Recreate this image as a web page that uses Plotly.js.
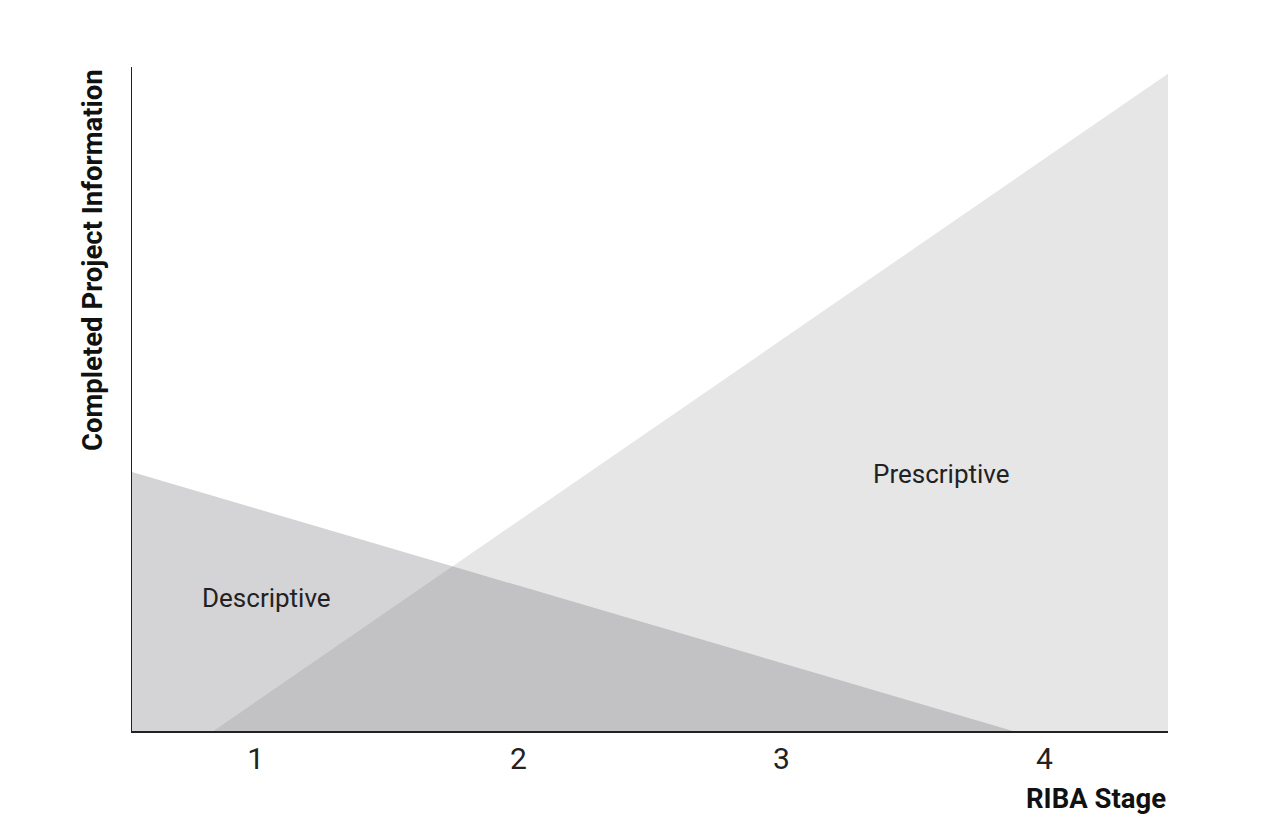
<!DOCTYPE html>
<html>
<head>
<meta charset="utf-8">
<script src="https://cdn.plot.ly/plotly-3.0.1.min.js"></script>
<style>
  html, body { margin: 0; padding: 0; background: #fff; }
  #chart { width: 1261px; height: 820px; }
</style>
</head>
<body>
<div id="chart"></div>
<script>
// RIBA stage on x, share of completed project information on y (0-100)
var stageTicks = [1, 2, 3, 4];
var stageLabels = ["1", "2", "3", "4"];

var descriptiveX = [0.53, 0.53, 3.88];
var descriptiveY = [0, 39, 0];

var prescriptiveX = [0.84, 4.47, 4.47];
var prescriptiveY = [0, 99, 0];

var regionNames = ["Descriptive", "Prescriptive"];
var regionLabelX = [1.04, 3.61];
var regionLabelY = [20, 38.7];

var font = "Roboto, 'Open Sans', sans-serif";

var trace1 = {
  x: prescriptiveX,
  y: prescriptiveY,
  mode: "lines",
  fill: "toself",
  fillcolor: "#e6e6e6",
  line: { width: 0 },
  hoverinfo: "skip",
  name: regionNames[1]
};

var trace2 = {
  x: descriptiveX,
  y: descriptiveY,
  mode: "lines",
  fill: "toself",
  fillcolor: "rgba(100,102,108,0.28)",
  line: { width: 0 },
  hoverinfo: "skip",
  name: regionNames[0]
};

var annotations = [];
for (var i = 0; i < regionNames.length; i++) {
  annotations.push({
    x: regionLabelX[i],
    y: regionLabelY[i],
    xref: "x",
    yref: "y",
    text: regionNames[i],
    showarrow: false,
    font: { family: font, size: 26, color: "#222" }
  });
}
// axis titles sit at the ends of the axes, not centred
annotations.push({
  x: 1,
  y: 0,
  xref: "paper",
  yref: "paper",
  xanchor: "right",
  yanchor: "top",
  yshift: -49,
  text: "<b>RIBA Stage</b>",
  showarrow: false,
  font: { family: font, size: 27.5, color: "#111" }
});
annotations.push({
  x: 0,
  y: 1,
  xref: "paper",
  yref: "paper",
  xanchor: "center",
  yanchor: "top",
  xshift: -40,
  textangle: -90,
  text: "<b>Completed Project Information</b>",
  showarrow: false,
  font: { family: font, size: 27.5, color: "#111" }
});

var layout = {
  width: 1261,
  height: 820,
  margin: { l: 132, r: 93, t: 67, b: 89 },
  paper_bgcolor: "#fff",
  plot_bgcolor: "#fff",
  showlegend: false,
  xaxis: {
    range: [0.53, 4.47],
    tickvals: stageTicks,
    ticktext: stageLabels,
    ticks: "",
    showgrid: false,
    zeroline: false,
    showline: true,
    linecolor: "#222",
    linewidth: 1.5,
    tickfont: { family: font, size: 30, color: "#222" },
    fixedrange: true
  },
  yaxis: {
    range: [0, 100],
    showticklabels: false,
    ticks: "",
    showgrid: false,
    zeroline: false,
    showline: true,
    linecolor: "#222",
    linewidth: 1.5,
    fixedrange: true
  },
  annotations: annotations
};

Plotly.newPlot("chart", [trace1, trace2], layout, { displayModeBar: false, staticPlot: true });
</script>
</body>
</html>
